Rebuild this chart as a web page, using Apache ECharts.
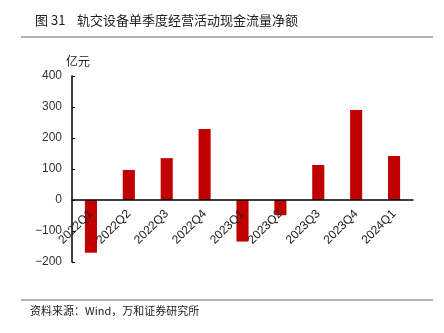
<!DOCTYPE html>
<html>
<head>
<meta charset="utf-8">
<script src="https://cdn.jsdelivr.net/npm/echarts@6/dist/echarts.min.js"></script>
<style>html,body{margin:0;padding:0;background:#fff;}#c{width:444px;height:333px;}</style>
</head>
<body>
<div id="c"></div>
<script>
const categories = ['2022Q1','2022Q2','2022Q3','2022Q4','2023Q1','2023Q2','2023Q3','2023Q4','2024Q1'];
const values = [-170, 97, 135, 229, -134, -49, 113, 290, 142];
const yTicks = {min: -200, max: 400, interval: 100};
const titleText = '图 31    轨交设备单季度经营活动现金流量净额';
const unitText = '亿元';
const sourceText = '资料来源：Wind，万和证券研究所';

const chart = echarts.init(document.getElementById('c'), null, {renderer: 'canvas'});
const cjk = '"Noto Sans CJK SC", sans-serif';
const num = '"Liberation Sans", Arial, sans-serif';
chart.setOption({
  animation: false,
  title: {
    text: titleText,
    left: 30, top: 9,
    textStyle: {fontFamily: cjk, fontSize: 13, fontWeight: 'normal', color: '#222'}
  },
  graphic: [
    {type: 'line', shape: {x1: 21, y1: 37, x2: 433, y2: 37}, style: {stroke: '#999', lineWidth: 1.5}},
    {type: 'line', shape: {x1: 21, y1: 300, x2: 433, y2: 300}, style: {stroke: '#999', lineWidth: 1.5}},
    {type: 'text', left: 30, top: 305, style: {text: sourceText, font: '11px "Noto Sans CJK SC"', fill: '#222'}},
    {type: 'text', left: 66, top: 55, style: {text: unitText, font: '12px "Noto Sans CJK SC"', fill: '#222'}}
  ],
  grid: {left: 72, right: 31, top: 76, bottom: 71, containLabel: false},
  xAxis: {
    type: 'category',
    data: categories,
    offset: -62,
    z: 10,
    axisLine: {onZero: false, lineStyle: {color: '#000', width: 1.5}},
    axisTick: {show: false},
    axisLabel: {rotate: 45, margin: 12, fontSize: 12, fontFamily: num, color: '#222', interval: 0}
  },
  yAxis: {
    type: 'value',
    min: yTicks.min, max: yTicks.max, interval: yTicks.interval,
    axisLine: {show: true, lineStyle: {color: '#000', width: 1.5}},
    axisTick: {show: true, inside: true, length: 3, lineStyle: {color: '#000'}},
    splitLine: {show: false},
    axisLabel: {fontSize: 12, fontFamily: num, color: '#333', margin: 10,
      formatter: v => v < 0 ? '\u2212' + Math.abs(v) : String(v)}
  },
  series: [{
    type: 'bar',
    data: values,
    barWidth: '32%',
    itemStyle: {color: '#C00000'}
  }]
});
</script>
</body>
</html>
